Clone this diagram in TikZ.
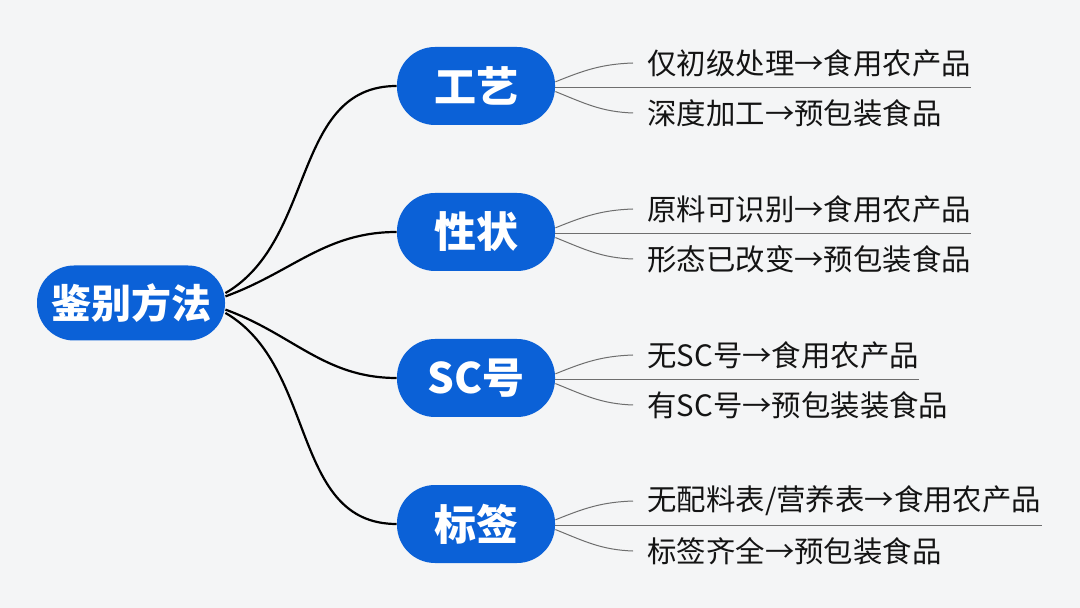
\documentclass[tikz,border=0pt]{standalone}
\usepackage{fontspec}
\setmainfont{Noto Sans CJK SC}
\usepackage{tikz}
\usetikzlibrary{calc}
\definecolor{paper}{HTML}{F4F5F6}
\definecolor{hub}{HTML}{0B61D7}
\definecolor{ink}{HTML}{141414}
\definecolor{quiet}{HTML}{6E6E6E}
\tikzset{root/.style={fill=hub,text=white,font=\fontsize{20}{24}\selectfont\bfseries,
    rounded corners=18.5pt,minimum width=94pt,minimum height=37.5pt,inner sep=0pt},
  kind/.style={fill=hub,text=white,font=\fontsize{21}{25}\selectfont\bfseries,
    rounded corners=19pt,minimum width=79pt,minimum height=39pt,inner sep=0pt},
  leaf/.style={anchor=west,inner sep=0pt,text=ink,font=\fontsize{14.7}{17}\selectfont},
  stem/.style={draw=black,line width=1.1pt},
  twig/.style={draw=quiet,line width=0.5pt},
  rule/.style={draw=quiet,line width=0.6pt}}

\begin{document}
\begin{tikzpicture}[x=0.5pt,y=-0.5pt]
  \fill[paper] (0,0) rectangle (1080,608);
  \useasboundingbox (0,0) rectangle (1080,608);
  % hub and the four ways
  \node[root] (jb) at (131,303) {鉴别方法};
  \node[kind] (gy) at (476,86) {工艺};
  \node[kind] (xz) at (476,232) {性状};
  \node[kind] (sc) at (476,378) {SC号};
  \node[kind] (bq) at (476,524) {标签};
  % results
  \node[leaf] (gy1) at (647,63) {仅初级处理→食用农产品};
  \node[leaf] (gy2) at (647,113) {深度加工→预包装食品};
  \node[leaf] (xz1) at (647,209) {原料可识别→食用农产品};
  \node[leaf] (xz2) at (647,259) {形态已改变→预包装食品};
  \node[leaf] (sc1) at (647,355) {无SC号→食用农产品};
  \node[leaf] (sc2) at (647,405) {有SC号→预包装装食品};
  \node[leaf] (bq1) at (647,501) {无配料表/营养表→食用农产品};
  \node[leaf] (bq2) at (647,551) {标签齐全→预包装食品};
  \draw[stem] (jb.6) to[out=30,in=180] (gy.west);
  \draw[stem] (jb.4) to[out=20,in=180] (xz.west);
  \draw[stem] (jb.-4) to[out=-20,in=180] (sc.west);
  \draw[stem] (jb.-6) to[out=-30,in=180] (bq.west);
  \foreach \k in {gy,xz,sc,bq}{
    \draw[twig] (\k.3) to[out=22,in=182] ([xshift=-7pt]\k1.west);
    \draw[twig] (\k.-4) to[out=-22,in=178] ([xshift=-7pt]\k2.west);
    \draw[rule] (\k.-1) -- (\k.-1 -| \k1.east);
  }
\end{tikzpicture}
\end{document}
